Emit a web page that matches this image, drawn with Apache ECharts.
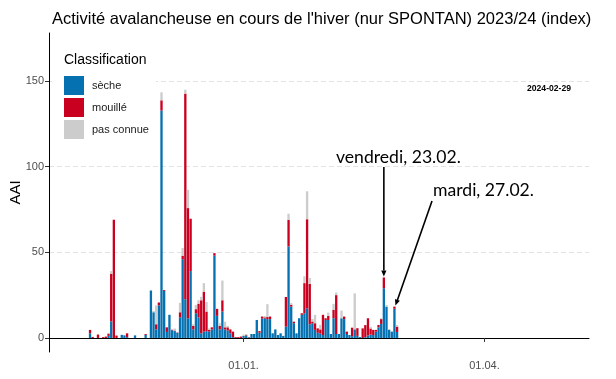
<!DOCTYPE html>
<html><head><meta charset="utf-8">
<script src="https://cdn.jsdelivr.net/npm/echarts@6/dist/echarts.min.js"></script>
<style>html,body{margin:0;padding:0;background:#fff}#c{width:616px;height:379px}</style>
</head><body><div id="c"></div>
<script>
// ---- data ----
const axisStart = '2023-10-20';
const axisEnd = '2024-05-10';
const dataStart = '2023-11-04';
const seche = [2.7,0,0,0,0,0,0,1.2,9.7,0,0,0,1.8,1.5,0.5,0,0,1.5,0,0,0,1.8,0,27.7,15,5,19,
  132.7,27.5,3.5,13.5,4.5,4,3,12,46,22.6,11.5,39,5,14.4,12,2.7,3.7,4,3.7,5,48,
  12.9,5,15.4,5,4.3,2.7,0.5,0,0,0,1.2,1.4,0.3,2.3,2.3,10.5,3,11.3,11.5,11,11,2.7,5,1.7,2.7,1.2,6.6,53.4,18.3,8.6,2.7,11.5,13.5,14.4,17.3,8,8.6,4.7,3,2.5,1.7,10.5,10.5,2.3,11.5,2.3,2.3,11.5,11,2.3,1.7,1,5,1.2,0.5,0,0.5,1.5,2,1.7,3.7,6.2,8.2,29,18.3,4.7,3.7,17,3.5];
const mouille = [2,0.6,0,2,0,0.5,0.8,1.3,27.7,69,1.4,0,0,0,2.2,0,0,0,0,0,0,0.5,0,0,0,3,1.7,
  6,0.5,2.7,0,0.3,0.3,0.2,3,2,120,64.3,30.6,2,2.4,8,19.3,23.3,11.4,1,1.2,1.5,
  4.1,2,6.6,1.2,1.9,2.3,3.2,0.5,0.5,0.8,0,0.3,0.2,0,0,0,1,1.2,0.5,1.2,1.5,0,0,0,0,0,17.3,15.6,1,0.9,0,0,0.9,17.6,52,23.6,1,3.9,2.6,2.5,11.8,1,2.4,0,4.9,22.7,0,0,1.5,1.4,0,5,0,4.5,0,5.6,7,10,3.5,3,1,1.4,2.8,6.3,0,0,0,1.3,3.1];
const pasConnue = [0,0,0,0,0,0,0,0.2,1.6,0,0,0,0,0,0,0,0,0,0,0,0,0,0,0,0.8,11,0,
  4.7,0,0,0,0,1.2,0,5.5,4.5,2.3,10.7,0,1,2.5,2,2,5,5.6,0.9,0,0,
  0,1.6,11.5,3.3,0.8,0,0,0,0,0,0.8,0.6,0,0,0,0,0,0,0.8,7.5,0,0,0,0,0,0,0,3.5,1,0,0,0,0,4,16.3,3.4,1.5,4.9,0,2.6,0,0,1.9,0,3.5,1.5,0,4.5,0,0,0,0,21,0,0,0,0,0,1,0,0,0,0.5,0,1,0.5,0,0,1];
const seriesNames = ['sèche','mouillé','pas connue'];
const seriesColors = ['#0571b0','#ca0020','#cccccc'];
const tickDates = ['2024-01-01','2024-04-01'];
const tickLabels = ['01.01.','01.04.'];
const annotations = [
  {date:'2024-02-23', text:'vendredi, 23.02.'},
  {date:'2024-02-27', text:'mardi, 27.02.'}
];

// ---- build categories ----
function fmt(d){return d.toISOString().slice(0,10);}
const categories = [];
for (let d = new Date(axisStart+'T00:00:00Z'); d <= new Date(axisEnd+'T00:00:00Z'); d.setUTCDate(d.getUTCDate()+1)) categories.push(fmt(d));
const off = categories.indexOf(dataStart);
function align(arr){return categories.map((c,i)=>{const k=i-off;return (k>=0&&k<arr.length)?arr[k]:'-';});}
const valuesList = [seche, mouille, pasConnue];

const chart = echarts.init(document.getElementById('c'), null, {renderer:'canvas'});
const FONT = 'Liberation Sans';
const isTick = (i,v)=>tickDates.indexOf(v)>=0;

chart.setOption({
  animation:false,
  backgroundColor:'#fff',
  textStyle:{fontFamily:FONT},
  title:[
    {text:"Activité avalancheuse en cours de l'hiver (nur SPONTAN) 2023/24 (index)", left:47, top:6,
     textStyle:{fontSize:16.5, fontWeight:'normal', color:'#000', fontFamily:FONT}},
    {text:'Classification', left:64, top:53, padding:0, textStyle:{fontSize:14, fontWeight:'normal', color:'#000', fontFamily:FONT}}
  ],
  legend:{orient:'vertical', left:52, top:71, padding:[5,7,5,12], backgroundColor:'#fff',
    itemWidth:20, itemHeight:19, itemGap:3, icon:'rect',
    data:seriesNames, textStyle:{fontSize:11, color:'#1a1a1a', fontFamily:FONT, padding:[0,0,0,3]}},
  grid:[
    {left:49, right:27, top:33, bottom:27, containLabel:false},
    {left:49, right:27, top:81, bottom:41, containLabel:false}
  ],
  xAxis:[
    {type:'category', gridIndex:0, data:categories, boundaryGap:true,
     axisLine:{show:true, lineStyle:{color:'#000', width:1}},
     axisTick:{show:true, alignWithLabel:true, interval:isTick, length:4, lineStyle:{color:'#333'}},
     axisLabel:{show:true, interval:isTick, color:'#4d4d4d', fontSize:11, margin:8,
       formatter:v=>{const k=tickDates.indexOf(v);return k>=0?tickLabels[k]:'';}},
     splitLine:{show:false}},
    {type:'category', gridIndex:1, data:categories, show:false}
  ],
  yAxis:[
    {type:'value', gridIndex:0, min:-8.2, max:178, name:'AAI', nameLocation:'middle', nameGap:26,
     nameTextStyle:{fontSize:15, color:'#000', fontFamily:FONT},
     axisLine:{show:true, lineStyle:{color:'#000', width:1}},
     axisTick:{show:false}, axisLabel:{show:false}, splitLine:{show:false}},
    {type:'value', gridIndex:1, min:0, max:150, interval:50,
     axisLine:{show:false},
     axisTick:{show:true, length:4, lineStyle:{color:'#333'}},
     axisLabel:{show:true, color:'#4d4d4d', fontSize:11, margin:5},
     splitLine:{show:true, lineStyle:{color:'#e3e3e3', width:1, type:[5,3]}}}
  ],
  series: seriesNames.map((n,i)=>({
    name:n, type:'bar', stack:'aai', xAxisIndex:0, yAxisIndex:0,
    barCategoryGap:'12%', itemStyle:{color:seriesColors[i]},
    data:align(valuesList[i])
  }))
});

// ---- annotations (anchored to bar tops) ----
function total(date){const k=categories.indexOf(date)-off;return seche[k]+mouille[k]+pasConnue[k];}
function arrow(x1,y1,x2,y2){
  const a=Math.atan2(y2-y1,x2-x1), L=6, W=2.6;
  const bx=x2-L*Math.cos(a), by=y2-L*Math.sin(a);
  return [
    {type:'line', shape:{x1:x1,y1:y1,x2:bx,y2:by}, style:{stroke:'#000', lineWidth:1.6}, silent:true},
    {type:'polygon', shape:{points:[[x2,y2],[bx+W*Math.sin(a),by-W*Math.cos(a)],[bx-W*Math.sin(a),by+W*Math.cos(a)]]}, style:{fill:'#000'}, silent:true}
  ];
}
const p1 = chart.convertToPixel({xAxisIndex:0,yAxisIndex:0},[annotations[0].date,total(annotations[0].date)]);
const p2 = chart.convertToPixel({xAxisIndex:0,yAxisIndex:0},[annotations[1].date,total(annotations[1].date)]);
const g = [
  {type:'text', style:{text:annotations[0].text, x:336, y:157, textAlign:'left', textVerticalAlign:'middle', font:'17.6px Lato', fill:'#000'}},
  {type:'text', style:{text:annotations[1].text, x:433, y:190, textAlign:'left', textVerticalAlign:'middle', font:'17.6px Lato', fill:'#000'}},
  {type:'text', style:{text:'2024-02-29', x:549, y:89, textAlign:'center', textVerticalAlign:'middle', font:'bold 8.6px '+FONT, fill:'#000'}}
].concat(arrow(p1[0],167,p1[0],p1[1]-1)).concat(arrow(432,201,p2[0]+1,p2[1]-1));
chart.setOption({graphic:g});
</script>
</body></html>
